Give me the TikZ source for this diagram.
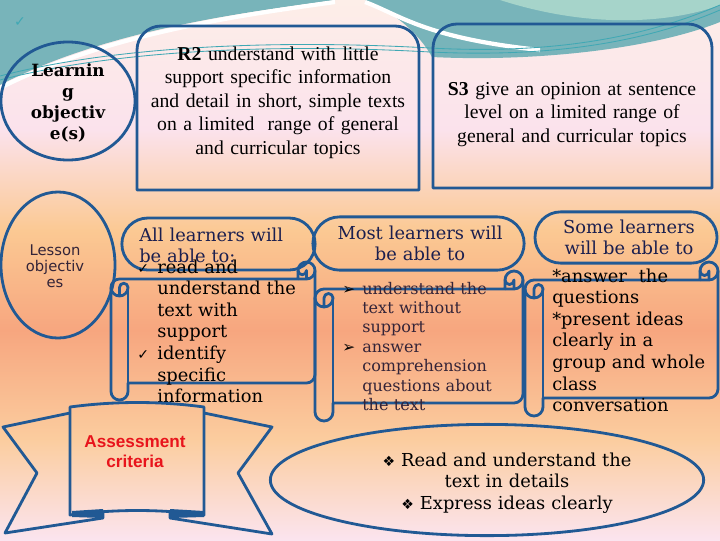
\documentclass[tikz,border=0pt]{standalone}
\usepackage{fontspec}
\setmainfont{Liberation Serif}
\newfontfamily\djserif{DejaVu Serif}
\newfontfamily\djsans{DejaVu Sans}
\newfontfamily\arialfont{Liberation Sans}
\usetikzlibrary{shapes.geometric,shapes.misc}

\definecolor{edge}{RGB}{33,89,148}
\definecolor{tealbg}{RGB}{120,180,186}
\definecolor{mintbg}{RGB}{166,212,202}
\definecolor{tealline}{RGB}{64,168,180}
\definecolor{bgA}{RGB}{253,238,232}
\definecolor{bgB}{RGB}{251,226,236}
\definecolor{bgC}{RGB}{251,201,147}
\definecolor{bgD}{RGB}{247,166,127}
\definecolor{bgE}{RGB}{251,205,159}
\definecolor{bgF}{RGB}{251,228,239}
\definecolor{navy}{RGB}{27,31,79}
\definecolor{redtxt}{RGB}{232,20,28}
\definecolor{plum}{RGB}{52,36,56}

\newlength{\bulw}
\setlength{\bulw}{0.5cm}
\newcommand{\bl}[1]{\makebox[\bulw][l]{#1}}
\newcommand{\tickmark}{{\djsans\fontsize{10}{10}\selectfont ✓}}
\newcommand{\arrowmark}{{\color{black}\djsans\fontsize{11}{11}\selectfont ➢}}
\newcommand{\diamark}{{\djsans\fontsize{10}{10}\selectfont ❖}}

% horizontal scroll: left, top, right, bottom, roll size
\newcommand{\scrollbox}[5]{%
  \draw[outline] (#1,{#2+1.5*#5})
    arc[start angle=180, end angle=270, radius={#5/2}]
    -- ({#3-#5},{#2+#5}) -- ({#3-#5},{#2+#5/2})
    arc[start angle=180, end angle=360, radius={#5/2}]
    -- (#3,{#4-1.5*#5})
    arc[start angle=0, end angle=90, radius={#5/2}]
    -- ({#1+#5},{#4-#5}) -- ({#1+#5},{#4-#5/2})
    arc[start angle=0, end angle=180, radius={#5/2}]
    -- cycle;
  \draw[outline] ({#3-#5},{#2+#5}) -- ({#3-#5/2},{#2+#5})
    arc[start angle=90, end angle=0, radius={#5/2}];
  \draw[outline] ({#3-#5/2},{#2+#5}) -- ({#3-#5/2},{#2+#5/2})
    arc[start angle=0, end angle=180, radius={#5/4}];
  \draw[outline] ({#1+#5/2},{#2+2*#5}) -- ({#1+#5/2},{#2+1.5*#5})
    arc[start angle=180, end angle=360, radius={#5/4}]
    arc[start angle=0, end angle=180, radius={#5/2}];
  \draw[outline] ({#1+#5},{#2+1.5*#5}) -- ({#1+#5},{#4-#5});
}

\begin{document}
\begin{tikzpicture}[x=0.025cm, y=-0.025cm,
    outline/.style={draw=edge, line width=2pt, line join=round},
    oval/.style={outline, ellipse, inner sep=0pt},
    pill/.style={outline, rounded rectangle, inner sep=0pt},
    boxtxt/.style={inner sep=0pt, text width=8cm, align=center, font=\fontsize{14}{16.8}\selectfont},
    headtxt/.style={inner sep=0pt, text width=5cm, align=center, text=navy, font=\djserif\fontsize{12.7}{15.4}\selectfont},
    listtxt/.style={inner sep=0pt, text width=4.8cm, align=left, font=\djserif\fontsize{12.7}{15.4}\selectfont}]
  \useasboundingbox (0,0) rectangle (720,540);

  % background
  \shade[top color=bgA, bottom color=bgB] (0,0) rectangle (720,131);
  \shade[top color=bgB, bottom color=bgC] (0,130) rectangle (720,231);
  \shade[top color=bgC, bottom color=bgD] (0,230) rectangle (720,331);
  \shade[top color=bgD, bottom color=bgE] (0,330) rectangle (720,441);
  \shade[top color=bgE, bottom color=bgF] (0,440) rectangle (720,540);
  \fill[tealbg] (0,0) -- (335,0) .. controls (250,12) and (110,28) .. (0,85) -- cycle;
  \fill[tealbg] (365,0) -- (720,0) -- (720,22) .. controls (650,50) and (530,62) .. (432,57) .. controls (420,35) and (395,12) .. (365,0) -- cycle;
  \fill[mintbg] (500,0) -- (720,0) -- (720,5) .. controls (680,20) and (600,32) .. (500,0) -- cycle;
  \draw[white, line width=3pt] (0,88) .. controls (110,32) and (250,14) .. (335,2);
  \draw[white, line width=3pt] (365,2) .. controls (400,15) and (425,38) .. (540,50);
  \draw[tealline, line width=0.6pt] (0,76) .. controls (100,50) and (250,38) .. (430,48) .. controls (560,55) and (650,35) .. (720,5);
  \draw[tealline, line width=0.6pt] (0,80) .. controls (100,54) and (250,42) .. (430,52) .. controls (560,58) and (650,40) .. (720,10);
  \node[inner sep=0pt, text=tealline, font=\djsans\fontsize{10}{10}\selectfont] (tick) at (20,22) {✓};

  % objectives row
  \node[oval, minimum width=3.35cm, minimum height=2.95cm] (lobj) at (68,101) {};
  \draw[outline] (137,190) -- (137,50) arc[start angle=180, end angle=270, radius=24] -- (395,26) arc[start angle=270, end angle=360, radius=24] -- (419,190) -- cycle;
  \draw[outline] (433,188) -- (433,48) arc[start angle=180, end angle=270, radius=24] -- (688,24) arc[start angle=270, end angle=360, radius=24] -- (712,188) -- cycle;
  \node[inner sep=0pt, text width=3cm, align=center, font=\djserif\bfseries\fontsize{12}{15.1}\selectfont, anchor=base] (lobjtxt) at (68,76) {Learnin\\g\\objectiv\\e(s)};
  \node[boxtxt, anchor=base] (r2txt) at (278,60) {\textbf{R2} understand with little\\support specific information\\and detail in short, simple texts\\on a limited~ range of general\\and curricular topics};
  \node[boxtxt, anchor=base] (s3txt) at (572,95) {\textbf{S3} give an opinion at sentence\\level on a limited range of\\general and curricular topics};

  % lesson objectives
  \node[oval, minimum width=2.85cm, minimum height=3.65cm] (lesson) at (58,265) {};
  \node[inner sep=0pt, text width=2.5cm, align=center, text=plum, font=\djsans\fontsize{10.5}{11.7}\selectfont, anchor=base] (lessontxt) at (55,255) {Lesson\\objectiv\\es};

  \node[pill, minimum width=4.83cm, minimum height=1.3cm] (allpill) at (218.5,244) {};
  \node[pill, minimum width=5.28cm, minimum height=1.33cm] (mostpill) at (418.5,243.5) {};
  \node[pill, minimum width=4.55cm, minimum height=1.28cm] (somepill) at (626,237.5) {};

  \scrollbox{111}{262}{315}{400}{17}
  \scrollbox{315}{271}{523}{421}{18}
  \scrollbox{525}{262}{718}{416}{18}

  \node[headtxt, align=left, anchor=base west] (allhead) at (139,241) {All learners will\\be able to:};
  \node[headtxt, anchor=base] (mosthead) at (420,239) {Most learners will\\be able to};
  \node[headtxt, anchor=base] (somehead) at (629,233) {Some learners\\will be able to};

  \node[listtxt, anchor=base west] (alltxt) at (137,273) {\bl{\tickmark}read and\\\bl{}understand the\\\bl{}text with\\\bl{}support\\\bl{\tickmark}identify\\\bl{}specific\\\bl{}information};
  \node[listtxt, text=plum, font=\djserif\fontsize{11.4}{13.8}\selectfont, anchor=base west] (mosttxt) at (342,294) {\bl{\arrowmark}understand the\\\bl{}text without\\\bl{}support\\\bl{\arrowmark}answer\\\bl{}comprehension\\\bl{}questions about\\\bl{}the text};
  \node[listtxt, anchor=base west] (sometxt) at (552,282) {*answer~ the\\{}questions\\{}*present ideas\\{}clearly in a\\{}group and whole\\{}class\\{}conversation};

  % assessment banner
  \draw[outline] (70,413) -- (3,427) -- (37,473) -- (5,533) -- (103,518) -- (103,512);
  \draw[outline] (204,413) -- (272,427) -- (238,473) -- (272,534) -- (170,518) -- (170,512);
  \fill[edge] (72,511) -- (103,509) -- (103,518) -- (72,517) -- cycle;
  \fill[edge] (170,509) -- (204,511) -- (204,517) -- (170,518) -- cycle;
  \draw[outline] (70,407) .. controls (115,401) and (160,401) .. (204,407) -- (204,515) .. controls (160,509) and (115,509) .. (70,515) -- cycle;
  \node[inner sep=0pt, text width=3cm, align=center, text=redtxt, font=\arialfont\bfseries\fontsize{12.2}{14.8}\selectfont, anchor=base] (assess) at (135,447) {Assessment\\criteria};

  \node[oval, minimum width=10.83cm, minimum height=2.78cm] (crit) at (487,480) {};
  \node[inner sep=0pt, text width=8cm, align=center, font=\djserif\fontsize{12.7}{15.3}\selectfont, anchor=base] (crittxt) at (507,466) {\diamark{} Read and understand the\\text in details\\\diamark{} Express ideas clearly};
\end{tikzpicture}
\end{document}
